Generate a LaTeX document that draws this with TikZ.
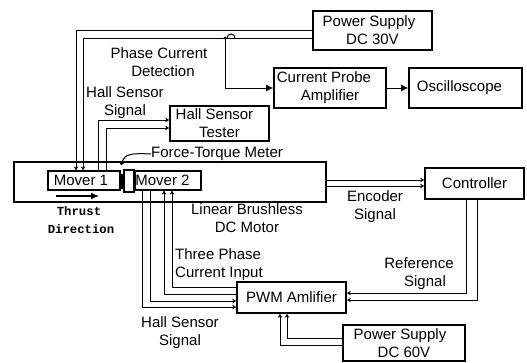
\documentclass[tikz,border=0pt]{standalone}
\usepackage{fontspec}
\setmainfont{Liberation Sans}
\newfontfamily\thrustfont[BoldFont={Liberation Mono Bold}]{Liberation Mono}
\usetikzlibrary{arrows.meta}
\tikzset{
  x=1pt,y=-1pt,
  box/.style={draw,line width=1.7pt,rectangle,inner sep=0pt,align=center,font=\fontsize{15}{18}\selectfont},
  lab/.style={inner sep=0pt,align=center,font=\fontsize{15}{18}\selectfont},
  wire/.style={line width=1pt,-{Stealth[length=4pt,width=4.5pt]}},
  plainwire/.style={line width=1pt},
  bigwire/.style={line width=1pt,-{Latex[length=7pt,width=7pt]}}
}
\begin{document}
\begin{tikzpicture}
\useasboundingbox (0,0) rectangle (527,362);
% boxes
\node[box,minimum width=119pt,minimum height=39pt] (ps30) at (372.5,30.5) {\hspace*{-7pt}Power Supply\\DC 30V};
\node[box,minimum width=112pt,minimum height=40pt] (probe) at (330,88) {\hspace*{-12pt}Current Probe\\Amplifier};
\node[box,minimum width=113pt,minimum height=40pt] (osc) at (465.5,88) {\hspace*{-12pt}Oscilloscope};
\node[box,minimum width=99pt,minimum height=35pt] (tester) at (219.5,123.5) {\hspace*{-10pt}Hall Sensor\\Tester};
\node[box,minimum width=312pt,minimum height=40pt] (motor) at (170,182) {};
\node[box,line width=1.2pt,minimum width=72pt,minimum height=19pt] (m1) at (84,180.5) {\hspace*{-6pt}Mover 1};
\node[box,line width=1.2pt,minimum width=66pt,minimum height=19pt] (m2) at (168,180.5) {\hspace*{-11pt}Mover 2};
\node[box,line width=1.5pt,minimum width=10pt,minimum height=22pt] (coup) at (129,181) {};
\node[draw,fill=black,inner sep=0pt,minimum width=3pt,minimum height=14pt] (disk) at (122.5,181) {};
\node[box,minimum width=99pt,minimum height=31pt] (ctrl) at (474.5,183.5) {Controller};
\node[box,minimum width=109pt,minimum height=31pt] (pwm) at (291.5,297.5) {PWM Amlifier};
\node[box,minimum width=122pt,minimum height=36pt] (ps60) at (404,343) {\hspace*{-8pt}Power Supply\\DC 60V};
% labels
\node[lab] (phase) at (163,62) {\hspace*{-8pt}Phase Current\\Detection};
\node[lab] (hall1) at (125,103) {Hall Sensor\\Signal};
\node[lab,anchor=west] (ft) at (151,154) {Force-Torque Meter};
\node[lab] (lbl) at (247,218) {Linear Brushless\\DC Motor};
\node[lab] (enc) at (375,207) {Encoder\\Signal};
\node[lab,align=left,anchor=west] (three) at (175,265) {Three Phase\\Current Input};
\node[lab] (hall2) at (180,333) {Hall Sensor\\Signal};
\node[lab] (ref) at (419,274) {Reference\\\hspace*{12pt}Signal};
\node[align=center,inner sep=0pt,font={\thrustfont\bfseries\fontsize{12.3}{18}\selectfont}] (thrust) at (81,220) {\hspace*{-4pt}Thrust\\Direction};
% coordinates
\coordinate (tap) at (225,38);
\coordinate (ftdot) at (121,165);
\coordinate (thA) at (56,196);
\coordinate (thB) at (99,196);
% supply lines
\draw[wire] ([yshift=0.5pt]ps30.west) -| ([xshift=-8pt]m1.north);
\draw[wire] ([yshift=-7.5pt]ps30.west) -| ([xshift=-1pt]m1.north);
% current probe
\draw[bigwire] (tap) |- (probe.west);
\fill (tap) circle (1.5pt);
\draw[line width=1pt] (227,38) arc[start angle=180,end angle=0,radius=4pt];
\draw[bigwire] (probe.east) -- (osc.west);
% hall tester
\draw[wire] ([xshift=14pt]m1.north) |- ([yshift=3.5pt]tester.west);
\draw[wire] ([xshift=22pt]m1.north) |- ([yshift=-4.5pt]tester.west);
% force torque
\draw[plainwire,{Circle[length=4pt]}-] (ftdot) .. controls (125,154) and (131,153) .. (ft.west);
% thrust
\draw[line width=1.3pt,-{Latex[length=8pt,width=7pt]}] (thA) -- (thB);
% encoder
\draw[wire] ([yshift=2pt]motor.east) -- ([yshift=3.5pt]ctrl.west);
\draw[wire] ([yshift=-4pt]motor.east) -- ([yshift=-2.5pt]ctrl.west);
% controller to pwm
\draw[wire] ([xshift=-8.5pt]ctrl.south) |- ([yshift=4.5pt]pwm.east);
\draw[wire] ([xshift=2.5pt]ctrl.south) |- ([yshift=-2.5pt]pwm.east);
% ps60 to pwm
\draw[wire] ([yshift=5pt]ps60.west) -| ([xshift=-4.5pt]pwm.south);
\draw[wire] ([yshift=-2pt]ps60.west) -| ([xshift=-11.5pt]pwm.south);
% mover 2 and pwm
\draw[wire] ([xshift=-26pt]m2.south) |- ([yshift=-9.5pt]pwm.west);
\draw[wire] ([xshift=-18pt]m2.south) |- ([yshift=-3.5pt]pwm.west);
\draw[wire] ([yshift=3.5pt]pwm.west) -| ([xshift=-4pt]m2.south);
\draw[wire] ([yshift=10.5pt]pwm.west) -| ([xshift=4pt]m2.south);
\end{tikzpicture}
\end{document}
